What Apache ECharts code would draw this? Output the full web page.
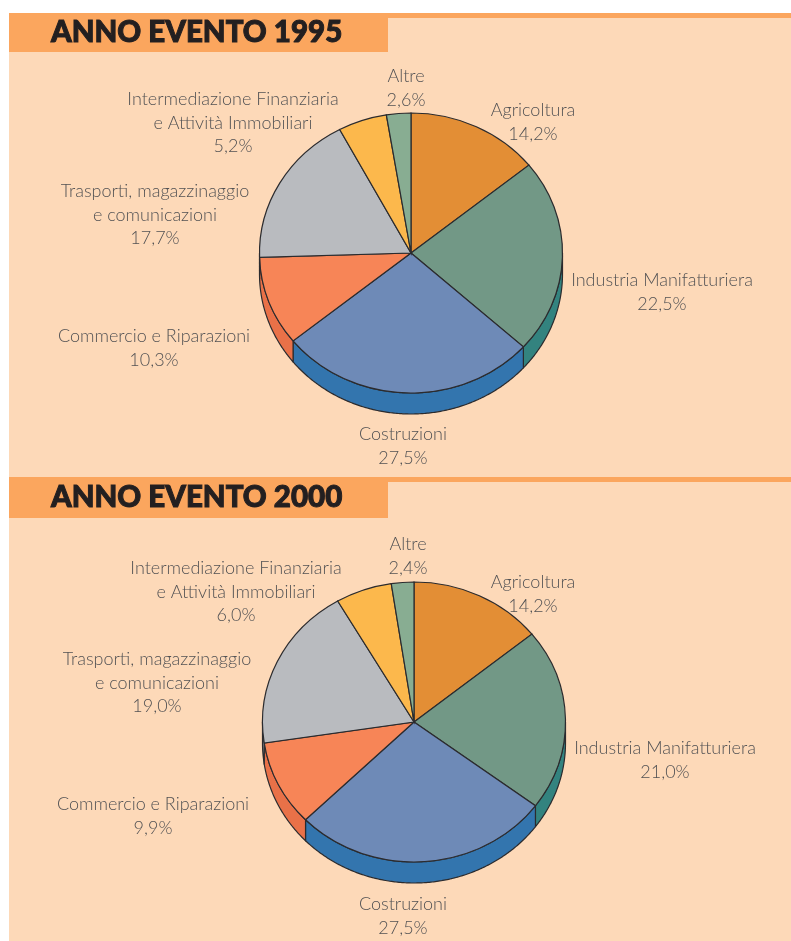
<!DOCTYPE html>
<html>
<head>
<meta charset="utf-8">
<style>
  html, body { margin: 0; padding: 0; background: #fff; }
  #chart { width: 791px; height: 941px; }
</style>
<script src="https://cdn.jsdelivr.net/npm/echarts@6/dist/echarts.min.js"></script>
</head>
<body>
<div id="chart"></div>
<script>
const categories = [
  "Agricoltura",
  "Industria Manifatturiera",
  "Costruzioni",
  "Commercio e Riparazioni",
  "Trasporti, magazzinaggio\ne comunicazioni",
  "Intermediazione Finanziaria\ne Attività Immobiliari",
  "Altre"
];
const values1995 = [14.2, 22.5, 27.5, 10.3, 17.7, 5.2, 2.6];
const values2000 = [14.2, 21.0, 27.5, 9.9, 19.0, 6.0, 2.4];
const titles = ["ANNO EVENTO 1995", "ANNO EVENTO 2000"];

const topColors = ["#e38e35", "#729886", "#6e8ab7", "#f78557", "#b9bbbf", "#fcb84c", "#88ad92"];
const sideColors = ["#c9782c", "#33837f", "#3375ae", "#e97148", "#9a9ca0", "#dd9c3a", "#6f947a"];
const lineColor = "#2b2b2e";
const textColor = "#525254";

// label centres, same order as categories
const labelPos1995 = [[533, 122], [662, 292], [403, 446], [154, 348], [155, 215], [233, 123], [406, 88]];
const labelPos2000 = [[533, 594], [665, 760], [403, 916], [153, 816], [157, 683], [236, 592], [408, 556]];

const RX = 151.5, RY = 140, DEPTH = 21;

function pieSeries(values, cx, cy, labelPos) {
  const total = values.reduce((a, b) => a + b, 0);
  return {
    type: "custom",
    coordinateSystem: "none",
    silent: true,
    data: values.map(v => [v]),
    renderItem: function (params, api) {
      const i = params.dataIndex;
      let before = 0;
      for (let k = 0; k < i; k++) before += values[k];
      const a0 = -Math.PI / 2 + before / total * Math.PI * 2;
      const a1 = a0 + api.value(0) / total * Math.PI * 2;
      const children = [];

      // side wall, only the front half of the disc shows
      const from = Math.max(a0, 0), to = Math.min(a1, Math.PI);
      if (to > from) {
        const top = [], bottom = [];
        const steps = Math.ceil((to - from) / 0.01);
        for (let s = 0; s <= steps; s++) {
          const a = from + (to - from) * s / steps;
          const x = cx + RX * Math.cos(a), y = cy + RY * Math.sin(a);
          top.push([x, y]);
          bottom.unshift([x, y + DEPTH]);
        }
        children.push({
          type: "polygon",
          shape: { points: top.concat(bottom) },
          style: { fill: sideColors[i], stroke: lineColor, lineWidth: 1.2, lineJoin: "round" }
        });
      }

      children.push({
        type: "sector",
        originX: cx,
        originY: cy,
        scaleY: RY / RX,
        shape: { cx: cx, cy: cy, r0: 0, r: RX, startAngle: a0, endAngle: a1, clockwise: true },
        style: { fill: topColors[i], stroke: lineColor, lineWidth: 1.2 }
      });

      children.push({
        type: "text",
        style: {
          x: labelPos[i][0],
          y: labelPos[i][1],
          text: categories[i] + "\n" + api.value(0).toFixed(1).replace(".", ",") + "%",
          align: "center",
          verticalAlign: "middle",
          fill: textColor,
          font: "300 18px Lato",
          lineHeight: 23.5
        }
      });
      return { type: "group", children: children };
    }
  };
}

function band(y, h) {
  return [
    { type: "rect", shape: { x: 9, y: y, width: 782, height: 5 }, style: { fill: "#fba65e" } },
    { type: "rect", shape: { x: 9, y: y, width: 379, height: h }, style: { fill: "#fba65e" } }
  ];
}

const titleStyle = {
  fontFamily: "Lato",
  fontWeight: 900,
  fontSize: 29.5,
  color: "#231f20",
  textBorderColor: "#231f20",
  textBorderWidth: 1
};

const myChart = echarts.init(document.getElementById("chart"), null, { renderer: "canvas" });
myChart.setOption({
  backgroundColor: "#ffffff",
  animation: false,
  title: [
    { text: titles[0], left: 46, top: 12, textStyle: titleStyle },
    { text: titles[1], left: 46, top: 477, textStyle: titleStyle }
  ],
  graphic: [
    { type: "rect", shape: { x: 9, y: 13, width: 782, height: 928 }, style: { fill: "#fdd9b8" } }
  ].concat(band(13, 39), band(477, 41)).map(g => Object.assign({ silent: true, z: -1 }, g)),
  series: [
    pieSeries(values1995, 411, 253, labelPos1995),
    pieSeries(values2000, 414, 722, labelPos2000)
  ]
});
</script>
</body>
</html>
